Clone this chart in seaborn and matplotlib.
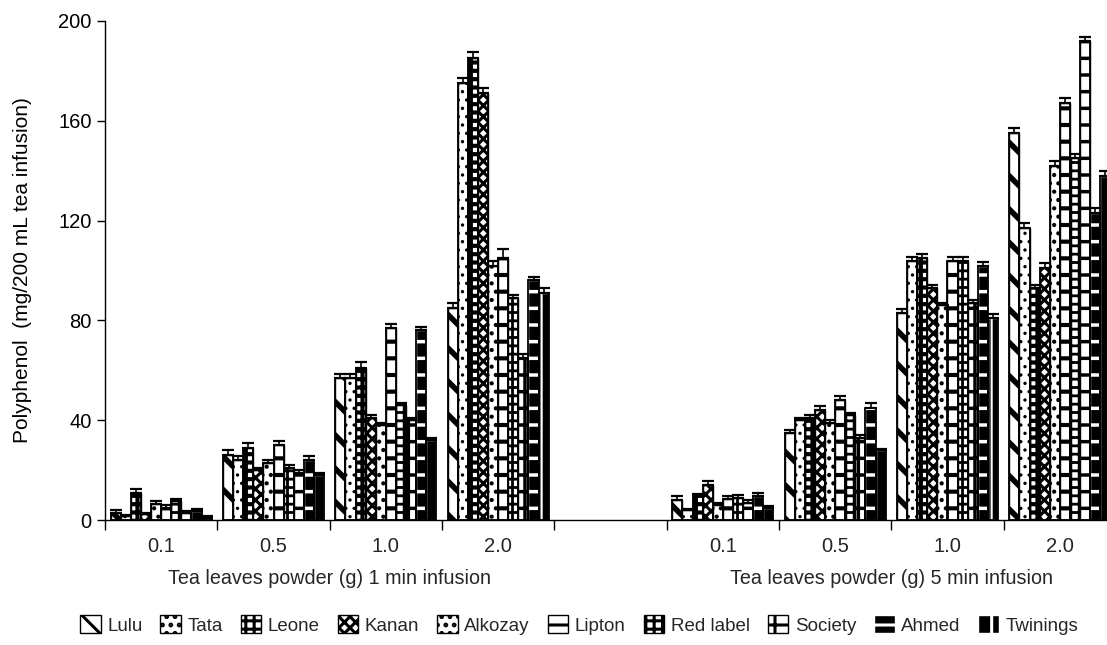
import numpy as np
import pandas as pd
import seaborn as sns
import matplotlib.pyplot as plt
from matplotlib.patches import Patch, Rectangle

# Brands (hue levels) and dose levels
brands = ["Lulu", "Tata", "Leone", "Kanan", "Alkozay", "Lipton",
          "Red label", "Society", "Ahmed", "Twinings"]
doses = ["0.1", "0.5", "1.0", "2.0"]

# Polyphenol (mg/200 mL tea infusion), one list per dose, ordered as `brands`
min1_d01 = [3, 1.5, 11, 2.5, 6.5, 5, 7.5, 3, 3.5, 1]
min1_d05 = [26, 24, 29, 20, 23, 30, 21, 19, 24, 18]
min1_d10 = [57, 57, 61, 41, 38, 77, 46, 40, 76, 32]
min1_d20 = [85, 175, 185, 171, 102, 105, 89, 65, 96, 91]
min5_d01 = [8, 4, 9.5, 14, 6, 8.5, 9, 7, 9.5, 5]
min5_d05 = [35, 40, 41, 44, 39, 48, 42, 33, 45, 28]
min5_d10 = [83, 104, 105, 93, 86, 104, 104, 87, 102, 81]
min5_d20 = [155, 117, 93, 101, 142, 167, 145, 192, 123, 138]

# Standard deviations
min1_d01_sd = [1, 0.5, 1.5, 0.5, 1, 1, 1, 0.5, 1, 0.5]
min1_d05_sd = [2, 1.5, 2, 1, 1, 1.5, 1, 1, 1.5, 1]
min1_d10_sd = [1.5, 1.5, 2.5, 1, 1, 1.5, 1, 1, 1.5, 1]
min1_d20_sd = [2, 2, 2.5, 2, 2, 3.5, 1, 1.5, 1.5, 2]
min5_d01_sd = [1.5, 0.5, 1, 1.5, 1, 1, 1, 1, 1.5, 0.5]
min5_d05_sd = [1, 1, 1, 1.5, 1, 1.5, 1, 1, 2, 0.5]
min5_d10_sd = [1.5, 1.5, 1.5, 1, 1, 1.5, 1.5, 1, 1.5, 1.5]
min5_d20_sd = [2, 2, 1, 2, 2, 2, 1.5, 1.5, 2, 2]

groups = [
    ("1 min 0.1", min1_d01, min1_d01_sd),
    ("1 min 0.5", min1_d05, min1_d05_sd),
    ("1 min 1.0", min1_d10, min1_d10_sd),
    ("1 min 2.0", min1_d20, min1_d20_sd),
    ("5 min 0.1", min5_d01, min5_d01_sd),
    ("5 min 0.5", min5_d05, min5_d05_sd),
    ("5 min 1.0", min5_d10, min5_d10_sd),
    ("5 min 2.0", min5_d20, min5_d20_sd),
]
slots = [g[0] for g in groups[:4]] + ["spacer"] + [g[0] for g in groups[4:]]
slot_labels = doses + [""] + doses

rows = []
for name, vals, sds in groups:
    for b, v, s in zip(brands, vals, sds):
        rows.append({"slot": name, "brand": b, "value": v, "sd": s})
df = pd.DataFrame(rows)

sns.set_theme(style="ticks")
plt.rcParams["font.family"] = ["Liberation Sans", "DejaVu Sans"]
plt.rcParams["hatch.linewidth"] = 2.2
plt.rcParams["hatch.color"] = "black"

# (hatch, face, hatch colour, hatch line width) per brand
styles = {
    "Lulu": ("\\", "white", "black", 4.0),
    "Tata": ("..", "white", "black", 1.2),
    "Leone": ("++", "white", "black", 3.0),
    "Kanan": ("xxx", "white", "black", 2.2),
    "Alkozay": ("..", "white", "black", 1.8),
    "Lipton": ("-", "white", "black", 3.0),
    "Red label": ("++", "white", "black", 2.0),
    "Society": ("+", "white", "black", 2.5),
    "Ahmed": ("-", "black", "white", 2.5),
    "Twinings": ("|", "black", "white", 1.5),
}


def style_patch(p, brand):
    hatch, face, hcol, hlw = styles[brand]
    p.set_facecolor(face)
    p.set_edgecolor(hcol)
    p.set_hatch(hatch)
    if hasattr(p, "set_hatch_linewidth"):
        p.set_hatch_linewidth(hlw)


fig = plt.figure(figsize=(11.07, 6.45), dpi=100)
ax = fig.add_axes([105 / 1107, 125 / 645, 1011 / 1107, 499 / 645])

sns.barplot(data=df, x="slot", y="value", hue="brand", order=slots,
            hue_order=brands, palette=["white"] * len(brands), width=0.9,
            errorbar=None, legend=False, ax=ax)

for brand, cont in zip(brands, ax.containers):
    sub = df[df.brand == brand].set_index("slot")
    for p in cont.patches:
        style_patch(p, brand)
        p.set_linewidth(1.0)
        x0, w, h = p.get_x(), p.get_width(), p.get_height()
        # black outline over every bar (hatch colour may be white)
        ax.add_patch(Rectangle((x0, 0), w, h, fill=False, edgecolor="black",
                               linewidth=1.3, zorder=p.get_zorder() + 0.1))
        slot = slots[int(round(x0 + w / 2))]
        ax.errorbar(x0 + w / 2, h, yerr=[[0], [sub.loc[slot, "sd"]]],
                    fmt="none", ecolor="black", elinewidth=1.2,
                    capsize=4.3, capthick=1.6, zorder=5)

ax.set_xlim(-0.5, 8.5)
ax.set_ylim(0, 200)
ax.set_yticks(np.arange(0, 201, 40))
ax.tick_params(axis="y", labelsize=14.5, length=6, width=1, direction="out",
               colors="black")

ax.set_xticks(np.arange(-0.5, 8.6, 1.0))
ax.set_xticklabels([])
ax.tick_params(axis="x", which="major", length=7, width=1, direction="out",
               colors="black")
ax.set_xticks(np.arange(0, 9), minor=True)
ax.set_xticklabels(slot_labels, minor=True)
ax.tick_params(axis="x", which="minor", length=0, labelsize=14.5, pad=12)
ax.set_xlabel("")

for side in ["top", "right"]:
    ax.spines[side].set_visible(False)
for side in ["left", "bottom"]:
    ax.spines[side].set_color("black")
    ax.spines[side].set_linewidth(1.0)

ax.set_ylabel("Polyphenol  (mg/200 mL tea infusion)", fontsize=15,
              color="black")
ax.yaxis.set_label_coords(-0.072, 0.5)

trans = ax.get_xaxis_transform()
ax.text(1.5, -0.118, "Tea leaves powder (g) 1 min infusion", transform=trans,
        ha="center", va="center", fontsize=14.2)
ax.text(6.5, -0.118, "Tea leaves powder (g) 5 min infusion", transform=trans,
        ha="center", va="center", fontsize=14.2)

handles = []
for b in brands:
    h = Patch(linewidth=1.0)
    style_patch(h, b)
    handles.append(h)
fig.legend(handles, brands, loc="center left",
           bbox_to_anchor=(80 / 1107, 1 - 625 / 645),
           ncol=10, frameon=False, handlelength=1.1, handleheight=1.1,
           handletextpad=0.35, columnspacing=0.95, fontsize=13.5,
           borderaxespad=0, borderpad=0)

fig.savefig("out.png", dpi=100)
